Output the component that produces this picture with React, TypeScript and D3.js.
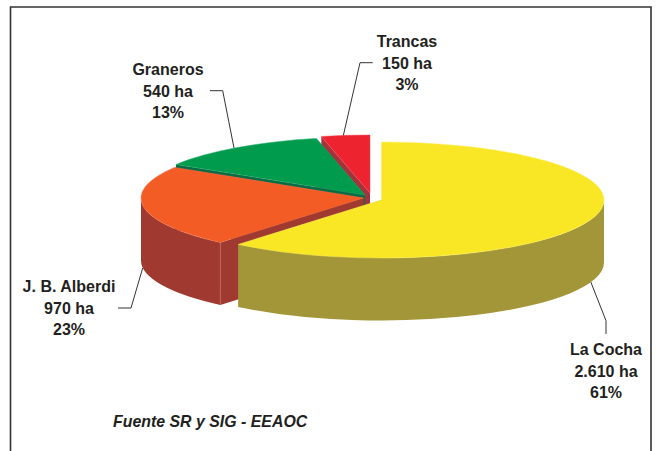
import * as d3 from 'd3'

const names = ['La Cocha', 'J. B. Alberdi', 'Graneros', 'Trancas']
const hectares = [2610, 970, 540, 150]
const hectareLabels = ['2.610 ha', '970 ha', '540 ha', '150 ha']
const percentLabels = ['61%', '23%', '13%', '3%']

const topColors = ['#f9e625', '#f35c25', '#009b4c', '#ee2330']
const wallColors = ['#a39638', '#a03a30', '#0b6b45', '#a5333b']
const edgeColors = ['#fbee5c', '#f5744a', '#2aab68', '#f04a55']

// each slice is pulled out of the pie on its own centre
const centers = [[381.5, 200], [363.5, 198], [365, 195], [370, 193]]
const labelPos = [[606, 355], [69, 292], [168, 75], [407, 47]]
const leaders = [
    [[590.7, 281.7], [606, 320.7], [606, 334]],
    [[142.7, 268], [131, 308], [118, 308]],
    [[234, 148], [222.7, 90.7], [210, 90.7]],
    [[343, 137], [360, 62.7], [372.7, 62.7]],
]

const rx = 222.5
const ry = 58
const depth = 62.5
const textColor = '#231f20'

const pie = d3.pie<number>().sort(null).startAngle(0).endAngle(2 * Math.PI)
const arcs = pie(hectares)

const point = (c: number[], a: number, dy = 0) =>
    [c[0] + rx * Math.sin(a), c[1] - ry * Math.cos(a) + dy]

const topPath = (c: number[], a0: number, a1: number) => {
    const p0 = point(c, a0)
    const p1 = point(c, a1)
    const large = a1 - a0 > Math.PI ? 1 : 0
    return `M${c[0]},${c[1]}L${p0}A${rx},${ry} 0 ${large} 1 ${p1}Z`
}

const facePath = (c: number[], a: number) => {
    const p = point(c, a)
    return `M${c[0]},${c[1]}L${p}L${p[0]},${p[1] + depth}L${c[0]},${c[1] + depth}Z`
}

// outer rim, only the part that faces the viewer (90deg to 270deg)
const rimPath = (c: number[], a0: number, a1: number) => {
    const from = Math.max(a0, Math.PI / 2)
    const to = Math.min(a1, Math.PI * 1.5)
    if (to <= from) return null
    const p0 = point(c, from)
    const p1 = point(c, to)
    return `M${p0}A${rx},${ry} 0 0 1 ${p1}L${p1[0]},${p1[1] + depth}A${rx},${ry} 0 0 0 ${p0[0]},${p0[1] + depth}Z`
}

const line = d3.line()

const App = () => {
    // back to front so nearer slices cover the walls of the ones behind
    const drawOrder = [3, 2, 1, 0]
    return (
        <svg width={656} height={451} style={{ position: 'absolute', left: 0, top: 0, background: '#fff' }}>
            <path d="M10.5,451V7H651V451" fill="none" stroke="#333" strokeWidth={1.6} />

            {leaders.map((pts, i) => (
                <path key={i} d={line(pts as [number, number][]) || ''} fill="none" stroke="#333" strokeWidth={1} />
            ))}

            {drawOrder.map(i => {
                const a = arcs[i]
                const c = centers[i]
                const rim = rimPath(c, a.startAngle, a.endAngle)
                const seam = point(c, a.startAngle)
                return (
                    <g key={i}>
                        <path d={facePath(c, a.startAngle)} fill={wallColors[i]} />
                        <path d={facePath(c, a.endAngle)} fill={wallColors[i]} />
                        {rim && <path d={rim} fill={wallColors[i]} />}
                        {i === 1 && (
                            <line x1={seam[0]} y1={seam[1]} x2={seam[0]} y2={seam[1] + depth} stroke="#c4665c" strokeWidth={0.7} />
                        )}
                        <path d={topPath(c, a.startAngle, a.endAngle)} fill={topColors[i]} stroke={edgeColors[i]} strokeWidth={0.5} />
                    </g>
                )
            })}

            {names.map((name, i) => (
                <text
                    key={name}
                    x={labelPos[i][0]}
                    y={labelPos[i][1]}
                    textAnchor="middle"
                    fontFamily="'Liberation Sans', Arial, sans-serif"
                    fontWeight="bold"
                    fontSize={16}
                    fill={textColor}
                >
                    <tspan x={labelPos[i][0]}>{name}</tspan>
                    <tspan x={labelPos[i][0]} dy={21.7}>{hectareLabels[i]}</tspan>
                    <tspan x={labelPos[i][0]} dy={21.7}>{percentLabels[i]}</tspan>
                </text>
            ))}

            <text
                x={113}
                y={427}
                fontFamily="'Liberation Sans', Arial, sans-serif"
                fontWeight="bold"
                fontStyle="italic"
                fontSize={15.9}
                fill={textColor}
            >
                Fuente SR y SIG - EEAOC
            </text>
        </svg>
    )
}

export default App
